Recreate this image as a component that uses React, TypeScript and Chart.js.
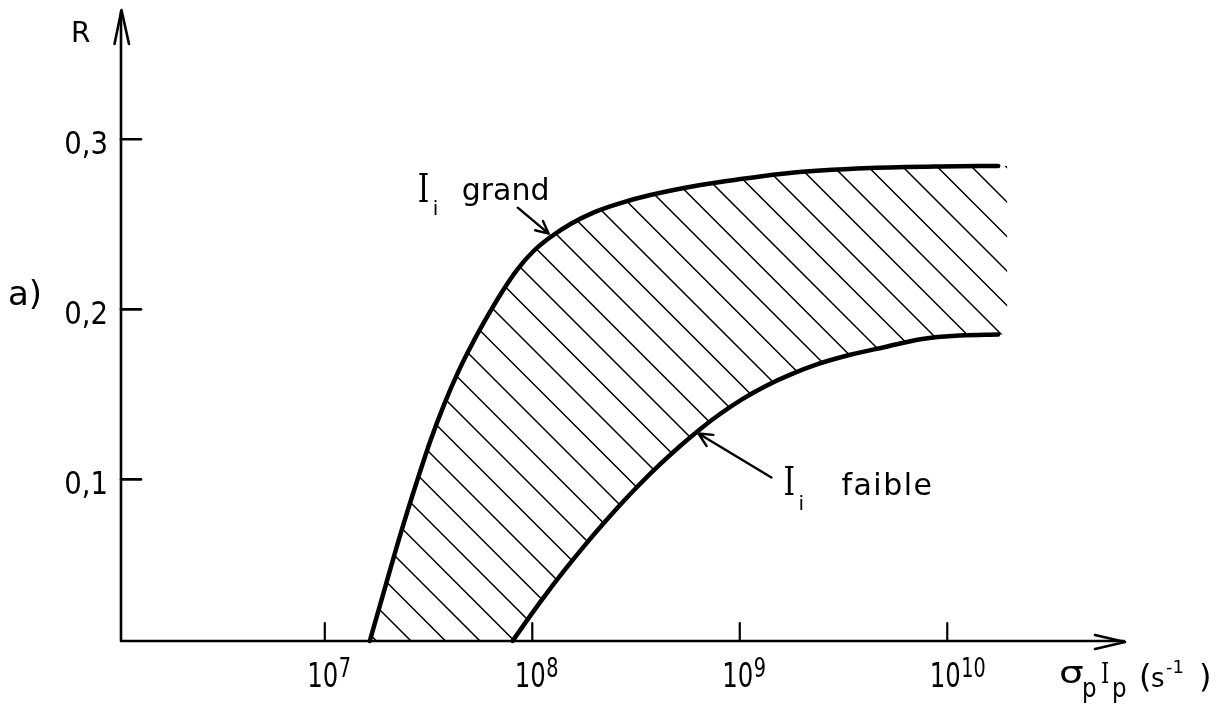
import React, { useEffect, useRef } from "react";
import { Chart, registerables } from "chart.js";

Chart.register(...registerables);

const W = 1222;
const H = 709;
const INK = "#000";

// Boundary "I_i grand": R as a function of σp·Ip (s⁻¹)
const upperX = [1.647e7, 1.967e7, 2.349e7, 2.774e7, 3.238e7, 3.782e7, 4.418e7, 5.159e7, 6.093e7, 7.194e7, 8.5e7, 1.015e8, 1.225e8, 1.529e8, 1.995e8, 2.662e8, 3.712e8, 6.46e8, 1.007e9, 1.569e9, 2.444e9, 4.254e9, 9.24e9, 1.759e10];
const upperR = [0.005, 0.0379, 0.0703, 0.0985, 0.1232, 0.1449, 0.1638, 0.1802, 0.1961, 0.2108, 0.2237, 0.2343, 0.2425, 0.2502, 0.2572, 0.2625, 0.2672, 0.2731, 0.2766, 0.2796, 0.2816, 0.2831, 0.284, 0.2843];

// Boundary "I_i faible"
const lowerX = [8.04e7, 9.81e7, 1.198e8, 1.463e8, 1.786e8, 2.181e8, 2.662e8, 3.322e8, 4.147e8, 5.176e8, 6.46e8, 8.065e8, 1.029e9, 1.328e9, 1.752e9, 2.39e9, 3.408e9, 5.023e9, 7.57e9, 1.154e10, 1.759e10];
const lowerR = [0.005, 0.0201, 0.0345, 0.0481, 0.0611, 0.0735, 0.0853, 0.0976, 0.1091, 0.1198, 0.1297, 0.1386, 0.1472, 0.1548, 0.1616, 0.1679, 0.1733, 0.1779, 0.1826, 0.1846, 0.1852];

// Axis ticks
const xTickExps = [7, 8, 9, 10];
const yTicks = [0.1, 0.2, 0.3];
const yTickLabels = ["0,1", "0,2", "0,3"];

// Axis ranges
const X_MIN = Math.pow(10, 6.0178);
const X_MAX = Math.pow(10, 10.8566);
const Y_MIN = 0.005;
const Y_MAX = 0.376;

// Arrow-tip anchors of the two curve captions (data units)
const grandAnchor = { x: 1.2e8, r: 0.2445 };
const faibleAnchor = { x: 6.32e8, r: 0.127 };

const SANS = "'DejaVu Sans', sans-serif";
const SERIF = "'DejaVu Serif', 'Liberation Serif', serif";

function text(
  ctx: CanvasRenderingContext2D,
  s: string,
  x: number,
  y: number,
  size: number,
  opts: { family?: string; sx?: number; align?: CanvasTextAlign; spacing?: number } = {}
) {
  const family = opts.family || SANS;
  const sx = opts.sx ?? 1;
  ctx.save();
  ctx.translate(x, y);
  ctx.scale(sx, 1);
  ctx.font = `${size}px ${family}`;
  (ctx as any).letterSpacing = `${opts.spacing ?? 0}px`;
  ctx.textAlign = opts.align || "left";
  ctx.textBaseline = "alphabetic";
  ctx.fillText(s, 0, 0);
  ctx.restore();
}

function measure(ctx: CanvasRenderingContext2D, s: string, size: number, sx = 1, family = SANS) {
  ctx.save();
  ctx.font = `${size}px ${family}`;
  (ctx as any).letterSpacing = "0px";
  const w = ctx.measureText(s).width * sx;
  ctx.restore();
  return w;
}

function arrow(ctx: CanvasRenderingContext2D, x1: number, y1: number, x2: number, y2: number, head = 14, spread = 0.42) {
  const ang = Math.atan2(y2 - y1, x2 - x1);
  ctx.beginPath();
  ctx.moveTo(x1, y1);
  ctx.lineTo(x2, y2);
  ctx.moveTo(x2 - head * Math.cos(ang - spread), y2 - head * Math.sin(ang - spread));
  ctx.lineTo(x2, y2);
  ctx.lineTo(x2 - head * Math.cos(ang + spread), y2 - head * Math.sin(ang + spread));
  ctx.stroke();
}

// Diagonal hatching of the band between the two boundaries
const hatchPlugin = {
  id: "hatchBand",
  afterDatasetsDraw(chart: any) {
    const ctx: CanvasRenderingContext2D = chart.ctx;
    const a = chart.chartArea;
    const upMeta = chart.getDatasetMeta(0);
    const loMeta = chart.getDatasetMeta(1);
    if (upMeta.dataset?.updateControlPoints) upMeta.dataset.updateControlPoints(a, "x");
    if (loMeta.dataset?.updateControlPoints) loMeta.dataset.updateControlPoints(a, "x");
    const up = upMeta.data as any[];
    const lo = loMeta.data as any[];
    if (!up.length || !lo.length) return;

    ctx.save();
    ctx.beginPath();
    ctx.moveTo(up[0].x, up[0].y);
    for (let i = 1; i < up.length; i++) {
      const p = up[i - 1];
      const q = up[i];
      if (p.cp2x !== undefined && q.cp1x !== undefined) ctx.bezierCurveTo(p.cp2x, p.cp2y, q.cp1x, q.cp1y, q.x, q.y);
      else ctx.lineTo(q.x, q.y);
    }
    const ue = up[up.length - 1];
    const le = lo[lo.length - 1];
    const xr = Math.max(ue.x, le.x) + 9;
    ctx.lineTo(xr, ue.y);
    ctx.lineTo(xr, le.y);
    ctx.lineTo(le.x, le.y);
    for (let i = lo.length - 1; i > 0; i--) {
      const q = lo[i];
      const p = lo[i - 1];
      if (q.cp1x !== undefined && p.cp2x !== undefined) ctx.bezierCurveTo(q.cp1x, q.cp1y, p.cp2x, p.cp2y, p.x, p.y);
      else ctx.lineTo(p.x, p.y);
    }
    ctx.closePath();
    ctx.clip();

    ctx.strokeStyle = INK;
    ctx.lineWidth = 1.5;
    ctx.beginPath();
    const step = 34.5;
    const phase = a.bottom - (a.left + 290);
    for (let c = phase + step * 4; c > -1200; c -= step) {
      ctx.moveTo(a.left, a.left + c);
      ctx.lineTo(a.right, a.right + c);
    }
    ctx.stroke();
    ctx.restore();
  },
};

// Axes with arrows, inward ticks, labels and captions
const framePlugin = {
  id: "frame",
  afterDraw(chart: any) {
    const ctx: CanvasRenderingContext2D = chart.ctx;
    const a = chart.chartArea;
    const xs = chart.scales.x;
    const ys = chart.scales.y;
    const x0 = a.left;
    const y0 = a.bottom;

    ctx.save();
    ctx.strokeStyle = INK;
    ctx.fillStyle = INK;
    ctx.lineCap = "round";
    ctx.lineJoin = "round";

    // axis lines
    ctx.lineWidth = 2.6;
    ctx.beginPath();
    ctx.moveTo(x0, y0);
    ctx.lineTo(x0, a.top + 2);
    ctx.moveTo(x0, y0);
    ctx.lineTo(a.right - 1, y0);
    ctx.stroke();

    // arrowheads
    ctx.beginPath();
    ctx.moveTo(x0 - 6.5, a.top + 34);
    ctx.lineTo(x0 + 0.5, a.top);
    ctx.lineTo(x0 + 8, a.top + 34);
    ctx.moveTo(a.right - 30, y0 - 6);
    ctx.lineTo(a.right, y0 + 1);
    ctx.lineTo(a.right - 30, y0 + 8);
    ctx.stroke();

    // y ticks and labels
    yTicks.forEach((v, i) => {
      const py = ys.getPixelForValue(v);
      ctx.lineWidth = 2.6;
      ctx.beginPath();
      ctx.moveTo(x0, py);
      ctx.lineTo(x0 + 20, py);
      ctx.stroke();
      text(ctx, yTickLabels[i], x0 - 13, py + 14.5, 32, { sx: 0.86, align: "right" });
    });

    // x ticks and labels (powers of ten)
    xTickExps.forEach((e) => {
      const px = xs.getPixelForValue(Math.pow(10, e));
      ctx.lineWidth = 2.2;
      ctx.beginPath();
      ctx.moveTo(px, y0);
      ctx.lineTo(px, y0 - 18);
      ctx.stroke();
      const baseW = measure(ctx, "10", 33, 0.74);
      const left = px - 2 - baseW / 2;
      text(ctx, "10", left, y0 + 46, 33, { sx: 0.74 });
      text(ctx, String(e), left + baseW + 0.5, y0 + 36, 26, { sx: 0.74 });
    });

    // axis names
    text(ctx, "R", x0 - 50, a.top + 32, 28);
    text(ctx, "a)", 8, 305, 34);

    const tx = a.right;
    text(ctx, "σ", tx - 66, y0 + 42, 30, { sx: 1.3 });
    text(ctx, "p", tx - 43, y0 + 56, 27, { sx: 0.85 });
    text(ctx, "I", tx - 24, y0 + 42, 28, { family: SERIF, sx: 0.75 });
    text(ctx, "p", tx - 13, y0 + 56, 27, { sx: 0.85 });
    text(ctx, "(", tx + 14, y0 + 46, 32);
    text(ctx, "s", tx + 26, y0 + 46, 26);
    text(ctx, "-1", tx + 41, y0 + 32, 18);
    text(ctx, ")", tx + 74, y0 + 46, 32);

    // caption: I_i grand
    const gx = xs.getPixelForValue(grandAnchor.x);
    const gy = ys.getPixelForValue(grandAnchor.r);
    ctx.lineWidth = 2.4;
    arrow(ctx, gx - 31, gy - 26, gx, gy, 14, 0.45);
    text(ctx, "I", gx - 131, gy - 32, 39, { family: SERIF, sx: 0.75 });
    text(ctx, "i", gx - 116, gy - 19, 20);
    text(ctx, "grand", gx - 87, gy - 34, 30);

    // caption: I_i faible
    const fx = xs.getPixelForValue(faibleAnchor.x);
    const fy = ys.getPixelForValue(faibleAnchor.r);
    ctx.lineWidth = 2.4;
    arrow(ctx, fx + 73, fy + 44, fx, fy, 15, 0.45);
    text(ctx, "I", fx + 85, fy + 61.5, 39, { family: SERIF, sx: 0.75 });
    text(ctx, "i", fx + 100, fy + 76.5, 20);
    text(ctx, "faible", fx + 143, fy + 61.5, 30, { spacing: 1.5 });

    ctx.restore();
  },
};

export default function App() {
  const ref = useRef<HTMLCanvasElement>(null);

  useEffect(() => {
    const canvas = ref.current;
    if (!canvas) return;
    const toPoints = (xs: number[], rs: number[]) => xs.map((x, i) => ({ x, y: rs[i] }));
    const curveStyle = {
      borderColor: INK,
      borderWidth: 4.5,
      pointRadius: 0,
      pointHoverRadius: 0,
      cubicInterpolationMode: "monotone" as const,
      borderCapStyle: "round" as const,
      borderJoinStyle: "round" as const,
      fill: false,
      clip: false as any,
    };
    const chart = new Chart(canvas, {
      type: "line",
      data: {
        datasets: [
          { label: "I_i grand", data: toPoints(upperX, upperR), ...curveStyle },
          { label: "I_i faible", data: toPoints(lowerX, lowerR), ...curveStyle },
        ],
      },
      options: {
        animation: false,
        responsive: false,
        maintainAspectRatio: false,
        events: [],
        layout: { padding: { left: 121, right: 97, top: 10, bottom: 68 } },
        plugins: { legend: { display: false }, tooltip: { enabled: false } },
        scales: {
          x: { type: "logarithmic", min: X_MIN, max: X_MAX, display: false },
          y: { type: "linear", min: Y_MIN, max: Y_MAX, display: false },
        },
      },
      plugins: [hatchPlugin, framePlugin],
    });
    return () => chart.destroy();
  }, []);

  return (
    <div style={{ position: "fixed", left: 0, top: 0, width: W, height: H, background: "#fff" }}>
      <canvas ref={ref} width={W} height={H} style={{ display: "block", width: W, height: H }} />
    </div>
  );
}
